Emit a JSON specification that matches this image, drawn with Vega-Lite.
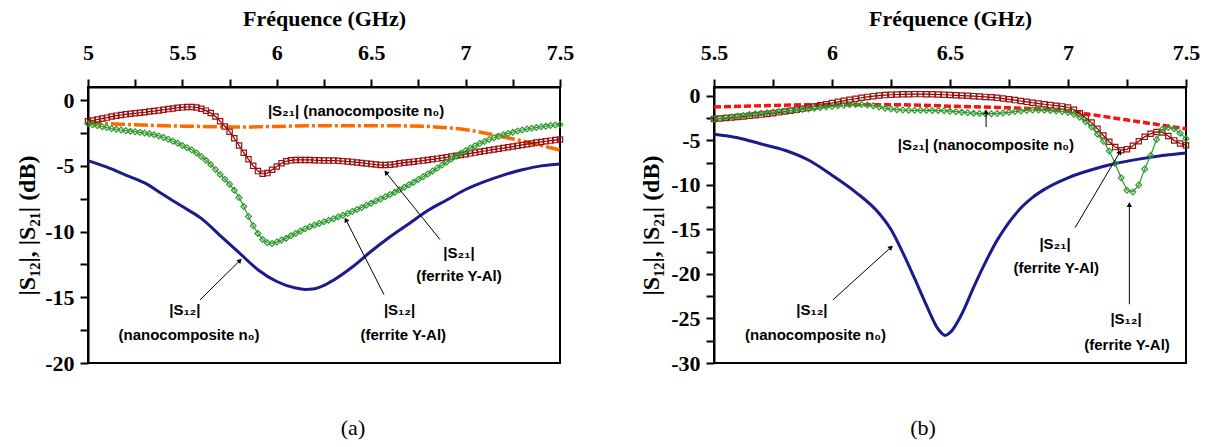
{
"$schema": "https://vega.github.io/schema/vega-lite/v6.json",
"background": "white",
"padding": {"left": 14, "top": 6, "right": 5, "bottom": 0},
"config": {
 "view": {"stroke": "black", "strokeWidth": 2},
 "axis": {"grid": false, "domainColor": "black", "domainWidth": 2, "tickColor": "black", "tickWidth": 2, "tickSize": 8, "labelFont": "Liberation Serif", "labelFontWeight": "bold", "labelFontSize": 22, "labelColor": "black", "titleFont": "Liberation Serif", "titleFontWeight": "bold", "titleFontSize": 22, "titleColor": "black", "labelOverlap": false, "labelFlush": false},
 "title": {"font": "Liberation Serif", "fontSize": 22, "fontWeight": "normal", "color": "black"}
},
"datasets": {
 "a12n": [{"f":5.0,"v":-4.6},{"f":5.1,"v":-5.1},{"f":5.2,"v":-5.7},{"f":5.3,"v":-6.3},{"f":5.4,"v":-7.2},{"f":5.5,"v":-8.1},{"f":5.6,"v":-9.0},{"f":5.7,"v":-10.3},{"f":5.8,"v":-11.6},{"f":5.9,"v":-12.9},{"f":6.0,"v":-13.8},{"f":6.1,"v":-14.3},{"f":6.15,"v":-14.4},{"f":6.2,"v":-14.35},{"f":6.25,"v":-14.1},{"f":6.3,"v":-13.7},{"f":6.4,"v":-12.7},{"f":6.5,"v":-11.5},{"f":6.6,"v":-10.4},{"f":6.7,"v":-9.4},{"f":6.8,"v":-8.4},{"f":6.9,"v":-7.6},{"f":7.0,"v":-6.8},{"f":7.1,"v":-6.2},{"f":7.2,"v":-5.7},{"f":7.3,"v":-5.3},{"f":7.4,"v":-5.0},{"f":7.5,"v":-4.85}],
 "a21n": [{"f":5.0,"v":-1.7},{"f":5.1,"v":-1.78},{"f":5.2,"v":-1.85},{"f":5.3,"v":-1.9},{"f":5.4,"v":-1.95},{"f":5.5,"v":-1.98},{"f":5.6,"v":-2.0},{"f":5.7,"v":-2.03},{"f":5.8,"v":-2.05},{"f":5.9,"v":-2.03},{"f":6.0,"v":-2.0},{"f":6.2,"v":-1.95},{"f":6.4,"v":-1.95},{"f":6.6,"v":-1.95},{"f":6.8,"v":-2.0},{"f":6.9,"v":-2.1},{"f":7.0,"v":-2.25},{"f":7.1,"v":-2.5},{"f":7.2,"v":-2.8},{"f":7.3,"v":-3.1},{"f":7.4,"v":-3.45},{"f":7.5,"v":-3.8}],
 "a21f": [{"f":5.0,"v":-1.6},{"f":5.025,"v":-1.55},{"f":5.05,"v":-1.47},{"f":5.075,"v":-1.4},{"f":5.1,"v":-1.33},{"f":5.125,"v":-1.25},{"f":5.15,"v":-1.18},{"f":5.175,"v":-1.13},{"f":5.2,"v":-1.08},{"f":5.225,"v":-1.04},{"f":5.25,"v":-1.0},{"f":5.275,"v":-0.96},{"f":5.3,"v":-0.92},{"f":5.325,"v":-0.87},{"f":5.35,"v":-0.83},{"f":5.375,"v":-0.78},{"f":5.4,"v":-0.73},{"f":5.425,"v":-0.68},{"f":5.45,"v":-0.63},{"f":5.475,"v":-0.58},{"f":5.5,"v":-0.55},{"f":5.525,"v":-0.52},{"f":5.55,"v":-0.52},{"f":5.575,"v":-0.56},{"f":5.6,"v":-0.65},{"f":5.625,"v":-0.8},{"f":5.65,"v":-0.98},{"f":5.675,"v":-1.25},{"f":5.7,"v":-1.6},{"f":5.725,"v":-2.0},{"f":5.75,"v":-2.4},{"f":5.775,"v":-2.9},{"f":5.8,"v":-3.45},{"f":5.825,"v":-4.0},{"f":5.85,"v":-4.5},{"f":5.875,"v":-5.0},{"f":5.9,"v":-5.4},{"f":5.925,"v":-5.6},{"f":5.95,"v":-5.55},{"f":5.975,"v":-5.3},{"f":6.0,"v":-5.05},{"f":6.025,"v":-4.8},{"f":6.05,"v":-4.65},{"f":6.075,"v":-4.58},{"f":6.1,"v":-4.55},{"f":6.125,"v":-4.55},{"f":6.15,"v":-4.55},{"f":6.175,"v":-4.55},{"f":6.2,"v":-4.57},{"f":6.225,"v":-4.58},{"f":6.25,"v":-4.6},{"f":6.275,"v":-4.6},{"f":6.3,"v":-4.6},{"f":6.325,"v":-4.62},{"f":6.35,"v":-4.64},{"f":6.375,"v":-4.67},{"f":6.4,"v":-4.7},{"f":6.425,"v":-4.74},{"f":6.45,"v":-4.78},{"f":6.475,"v":-4.82},{"f":6.5,"v":-4.86},{"f":6.525,"v":-4.9},{"f":6.55,"v":-4.93},{"f":6.575,"v":-4.94},{"f":6.6,"v":-4.92},{"f":6.625,"v":-4.87},{"f":6.65,"v":-4.81},{"f":6.675,"v":-4.76},{"f":6.7,"v":-4.72},{"f":6.725,"v":-4.68},{"f":6.75,"v":-4.64},{"f":6.775,"v":-4.6},{"f":6.8,"v":-4.55},{"f":6.825,"v":-4.5},{"f":6.85,"v":-4.45},{"f":6.875,"v":-4.4},{"f":6.9,"v":-4.35},{"f":6.925,"v":-4.29},{"f":6.95,"v":-4.23},{"f":6.975,"v":-4.17},{"f":7.0,"v":-4.11},{"f":7.025,"v":-4.05},{"f":7.05,"v":-3.99},{"f":7.075,"v":-3.93},{"f":7.1,"v":-3.87},{"f":7.125,"v":-3.81},{"f":7.15,"v":-3.75},{"f":7.175,"v":-3.7},{"f":7.2,"v":-3.65},{"f":7.225,"v":-3.59},{"f":7.25,"v":-3.53},{"f":7.275,"v":-3.47},{"f":7.3,"v":-3.41},{"f":7.325,"v":-3.35},{"f":7.35,"v":-3.29},{"f":7.375,"v":-3.23},{"f":7.4,"v":-3.18},{"f":7.425,"v":-3.13},{"f":7.45,"v":-3.08},{"f":7.475,"v":-3.04},{"f":7.5,"v":-3.0}],
 "a12f": [{"f":5.0,"v":-1.8},{"f":5.025,"v":-1.88},{"f":5.05,"v":-1.95},{"f":5.075,"v":-2.02},{"f":5.1,"v":-2.09},{"f":5.125,"v":-2.16},{"f":5.15,"v":-2.22},{"f":5.175,"v":-2.27},{"f":5.2,"v":-2.32},{"f":5.225,"v":-2.36},{"f":5.25,"v":-2.4},{"f":5.275,"v":-2.45},{"f":5.3,"v":-2.5},{"f":5.325,"v":-2.56},{"f":5.35,"v":-2.63},{"f":5.375,"v":-2.72},{"f":5.4,"v":-2.84},{"f":5.425,"v":-2.98},{"f":5.45,"v":-3.13},{"f":5.475,"v":-3.28},{"f":5.5,"v":-3.45},{"f":5.525,"v":-3.62},{"f":5.55,"v":-3.8},{"f":5.575,"v":-4.02},{"f":5.6,"v":-4.28},{"f":5.625,"v":-4.57},{"f":5.65,"v":-4.9},{"f":5.675,"v":-5.27},{"f":5.7,"v":-5.65},{"f":5.725,"v":-6.02},{"f":5.75,"v":-6.4},{"f":5.775,"v":-6.85},{"f":5.8,"v":-7.4},{"f":5.825,"v":-8.1},{"f":5.85,"v":-8.85},{"f":5.875,"v":-9.55},{"f":5.9,"v":-10.15},{"f":5.925,"v":-10.6},{"f":5.95,"v":-10.85},{"f":5.975,"v":-10.9},{"f":6.0,"v":-10.8},{"f":6.025,"v":-10.65},{"f":6.05,"v":-10.5},{"f":6.075,"v":-10.32},{"f":6.1,"v":-10.14},{"f":6.125,"v":-9.96},{"f":6.15,"v":-9.78},{"f":6.175,"v":-9.63},{"f":6.2,"v":-9.5},{"f":6.225,"v":-9.38},{"f":6.25,"v":-9.26},{"f":6.275,"v":-9.14},{"f":6.3,"v":-9.02},{"f":6.325,"v":-8.89},{"f":6.35,"v":-8.76},{"f":6.375,"v":-8.62},{"f":6.4,"v":-8.47},{"f":6.425,"v":-8.32},{"f":6.45,"v":-8.16},{"f":6.475,"v":-8.0},{"f":6.5,"v":-7.84},{"f":6.525,"v":-7.68},{"f":6.55,"v":-7.52},{"f":6.575,"v":-7.35},{"f":6.6,"v":-7.18},{"f":6.625,"v":-7.0},{"f":6.65,"v":-6.82},{"f":6.675,"v":-6.63},{"f":6.7,"v":-6.44},{"f":6.725,"v":-6.24},{"f":6.75,"v":-6.04},{"f":6.775,"v":-5.83},{"f":6.8,"v":-5.62},{"f":6.825,"v":-5.4},{"f":6.85,"v":-5.17},{"f":6.875,"v":-4.94},{"f":6.9,"v":-4.71},{"f":6.925,"v":-4.48},{"f":6.95,"v":-4.26},{"f":6.975,"v":-4.04},{"f":7.0,"v":-3.84},{"f":7.025,"v":-3.65},{"f":7.05,"v":-3.47},{"f":7.075,"v":-3.3},{"f":7.1,"v":-3.14},{"f":7.125,"v":-2.99},{"f":7.15,"v":-2.86},{"f":7.175,"v":-2.74},{"f":7.2,"v":-2.63},{"f":7.225,"v":-2.53},{"f":7.25,"v":-2.44},{"f":7.275,"v":-2.35},{"f":7.3,"v":-2.27},{"f":7.325,"v":-2.2},{"f":7.35,"v":-2.14},{"f":7.375,"v":-2.08},{"f":7.4,"v":-2.03},{"f":7.425,"v":-1.98},{"f":7.45,"v":-1.93},{"f":7.475,"v":-1.89},{"f":7.5,"v":-1.85}],
 "b12n": [{"f":5.5,"v":-4.3},{"f":5.6,"v":-4.7},{"f":5.7,"v":-5.4},{"f":5.8,"v":-6.1},{"f":5.9,"v":-7.2},{"f":6.0,"v":-8.9},{"f":6.1,"v":-10.8},{"f":6.2,"v":-13.2},{"f":6.25,"v":-15.0},{"f":6.3,"v":-17.6},{"f":6.35,"v":-20.5},{"f":6.4,"v":-23.5},{"f":6.45,"v":-26.2},{"f":6.48,"v":-26.9},{"f":6.5,"v":-26.6},{"f":6.55,"v":-24.5},{"f":6.6,"v":-21.5},{"f":6.65,"v":-18.7},{"f":6.7,"v":-16.2},{"f":6.75,"v":-14.2},{"f":6.8,"v":-12.6},{"f":6.85,"v":-11.4},{"f":6.9,"v":-10.5},{"f":7.0,"v":-9.2},{"f":7.1,"v":-8.3},{"f":7.2,"v":-7.6},{"f":7.3,"v":-7.1},{"f":7.4,"v":-6.7},{"f":7.5,"v":-6.4}],
 "b21n": [{"f":5.5,"v":-1.25},{"f":5.7,"v":-1.1},{"f":5.9,"v":-1.0},{"f":6.1,"v":-1.0},{"f":6.3,"v":-1.0},{"f":6.5,"v":-1.15},{"f":6.7,"v":-1.3},{"f":6.9,"v":-1.5},{"f":7.0,"v":-1.7},{"f":7.1,"v":-2.1},{"f":7.2,"v":-2.5},{"f":7.3,"v":-2.9},{"f":7.4,"v":-3.3},{"f":7.5,"v":-3.7}],
 "b21f": [{"f":5.5,"v":-2.6},{"f":5.525,"v":-2.55},{"f":5.55,"v":-2.49},{"f":5.575,"v":-2.43},{"f":5.6,"v":-2.37},{"f":5.625,"v":-2.3},{"f":5.65,"v":-2.24},{"f":5.675,"v":-2.17},{"f":5.7,"v":-2.1},{"f":5.725,"v":-2.02},{"f":5.75,"v":-1.94},{"f":5.775,"v":-1.85},{"f":5.8,"v":-1.76},{"f":5.825,"v":-1.66},{"f":5.85,"v":-1.56},{"f":5.875,"v":-1.44},{"f":5.9,"v":-1.32},{"f":5.925,"v":-1.19},{"f":5.95,"v":-1.06},{"f":5.975,"v":-0.93},{"f":6.0,"v":-0.8},{"f":6.025,"v":-0.67},{"f":6.05,"v":-0.55},{"f":6.075,"v":-0.43},{"f":6.1,"v":-0.32},{"f":6.125,"v":-0.21},{"f":6.15,"v":-0.11},{"f":6.175,"v":-0.03},{"f":6.2,"v":0.04},{"f":6.225,"v":0.09},{"f":6.25,"v":0.13},{"f":6.275,"v":0.16},{"f":6.3,"v":0.18},{"f":6.325,"v":0.19},{"f":6.35,"v":0.2},{"f":6.375,"v":0.2},{"f":6.4,"v":0.19},{"f":6.425,"v":0.18},{"f":6.45,"v":0.16},{"f":6.475,"v":0.13},{"f":6.5,"v":0.1},{"f":6.525,"v":0.07},{"f":6.55,"v":0.04},{"f":6.575,"v":0.01},{"f":6.6,"v":-0.03},{"f":6.625,"v":-0.07},{"f":6.65,"v":-0.11},{"f":6.675,"v":-0.16},{"f":6.7,"v":-0.22},{"f":6.725,"v":-0.3},{"f":6.75,"v":-0.38},{"f":6.775,"v":-0.47},{"f":6.8,"v":-0.57},{"f":6.825,"v":-0.67},{"f":6.85,"v":-0.77},{"f":6.875,"v":-0.86},{"f":6.9,"v":-0.94},{"f":6.925,"v":-1.02},{"f":6.95,"v":-1.1},{"f":6.975,"v":-1.18},{"f":7.0,"v":-1.3},{"f":7.025,"v":-1.55},{"f":7.05,"v":-1.95},{"f":7.075,"v":-2.45},{"f":7.1,"v":-3.0},{"f":7.125,"v":-3.7},{"f":7.15,"v":-4.45},{"f":7.175,"v":-5.15},{"f":7.2,"v":-5.75},{"f":7.225,"v":-6.1},{"f":7.25,"v":-6.0},{"f":7.275,"v":-5.6},{"f":7.3,"v":-5.1},{"f":7.325,"v":-4.6},{"f":7.35,"v":-4.25},{"f":7.375,"v":-4.05},{"f":7.4,"v":-4.1},{"f":7.425,"v":-4.5},{"f":7.45,"v":-5.0},{"f":7.475,"v":-5.35},{"f":7.5,"v":-5.55}],
 "b12f": [{"f":5.5,"v":-2.6},{"f":5.525,"v":-2.52},{"f":5.55,"v":-2.43},{"f":5.575,"v":-2.35},{"f":5.6,"v":-2.27},{"f":5.625,"v":-2.19},{"f":5.65,"v":-2.1},{"f":5.675,"v":-2.02},{"f":5.7,"v":-1.95},{"f":5.725,"v":-1.88},{"f":5.75,"v":-1.82},{"f":5.775,"v":-1.76},{"f":5.8,"v":-1.7},{"f":5.825,"v":-1.64},{"f":5.85,"v":-1.58},{"f":5.875,"v":-1.52},{"f":5.9,"v":-1.46},{"f":5.925,"v":-1.39},{"f":5.95,"v":-1.32},{"f":5.975,"v":-1.25},{"f":6.0,"v":-1.18},{"f":6.025,"v":-1.11},{"f":6.05,"v":-1.05},{"f":6.075,"v":-1.0},{"f":6.1,"v":-0.97},{"f":6.125,"v":-0.97},{"f":6.15,"v":-1.02},{"f":6.175,"v":-1.12},{"f":6.2,"v":-1.25},{"f":6.225,"v":-1.38},{"f":6.25,"v":-1.48},{"f":6.275,"v":-1.55},{"f":6.3,"v":-1.59},{"f":6.325,"v":-1.61},{"f":6.35,"v":-1.62},{"f":6.375,"v":-1.62},{"f":6.4,"v":-1.62},{"f":6.425,"v":-1.63},{"f":6.45,"v":-1.65},{"f":6.475,"v":-1.68},{"f":6.5,"v":-1.72},{"f":6.525,"v":-1.77},{"f":6.55,"v":-1.83},{"f":6.575,"v":-1.89},{"f":6.6,"v":-1.94},{"f":6.625,"v":-1.98},{"f":6.65,"v":-2.0},{"f":6.675,"v":-2.0},{"f":6.7,"v":-1.97},{"f":6.725,"v":-1.91},{"f":6.75,"v":-1.84},{"f":6.775,"v":-1.76},{"f":6.8,"v":-1.69},{"f":6.825,"v":-1.63},{"f":6.85,"v":-1.59},{"f":6.875,"v":-1.58},{"f":6.9,"v":-1.6},{"f":6.925,"v":-1.65},{"f":6.95,"v":-1.7},{"f":6.975,"v":-1.76},{"f":7.0,"v":-1.85},{"f":7.025,"v":-2.05},{"f":7.05,"v":-2.4},{"f":7.075,"v":-2.9},{"f":7.1,"v":-3.5},{"f":7.125,"v":-4.3},{"f":7.15,"v":-5.1},{"f":7.175,"v":-6.2},{"f":7.2,"v":-7.6},{"f":7.225,"v":-9.2},{"f":7.25,"v":-10.6},{"f":7.275,"v":-10.8},{"f":7.3,"v":-10.0},{"f":7.325,"v":-8.2},{"f":7.35,"v":-6.7},{"f":7.375,"v":-4.9},{"f":7.4,"v":-3.75},{"f":7.425,"v":-3.55},{"f":7.45,"v":-3.7},{"f":7.475,"v":-4.2},{"f":7.5,"v":-4.8}],
 "ann": [
  {"p":"a","f":6.42,"v":-0.8,"t":"|S₂₁| (nanocomposite n₀)"},
  {"p":"a","f":6.965,"v":-11.6,"t":"|S₂₁|"},
  {"p":"a","f":6.965,"v":-13.4,"t":"(ferrite Y-Al)"},
  {"p":"a","f":5.513,"v":-15.95,"t":"|S₁₂|"},
  {"p":"a","f":5.535,"v":-17.9,"t":"(nanocomposite n₀)"},
  {"p":"a","f":6.65,"v":-15.95,"t":"|S₁₂|"},
  {"p":"a","f":6.67,"v":-17.9,"t":"(ferrite Y-Al)"},
  {"p":"b","f":6.652,"v":-5.5,"t":"|S₂₁| (nanocomposite n₀)"},
  {"p":"b","f":6.945,"v":-16.6,"t":"|S₂₁|"},
  {"p":"b","f":6.95,"v":-19.3,"t":"(ferrite Y-Al)"},
  {"p":"b","f":5.915,"v":-24.0,"t":"|S₁₂|"},
  {"p":"b","f":5.93,"v":-26.8,"t":"(nanocomposite n₀)"},
  {"p":"b","f":7.246,"v":-25.1,"t":"|S₁₂|"},
  {"p":"b","f":7.25,"v":-28.0,"t":"(ferrite Y-Al)"}
 ],
 "arrows": [
  {"p":"a","f":5.805,"v":-12.2,"f2":5.593,"v2":-15.2},
  {"p":"a","f":6.366,"v":-9.1,"f2":6.568,"v2":-14.8},
  {"p":"a","f":6.578,"v":-5.5,"f2":6.864,"v2":-10.6},
  {"p":"b","f":6.25,"v":-17.0,"f2":6.004,"v2":-22.9},
  {"p":"b","f":6.653,"v":-1.8,"f2":6.653,"v2":-3.5},
  {"p":"b","f":7.22,"v":-6.3,"f2":7.03,"v2":-14.8},
  {"p":"b","f":7.26,"v":-12.2,"f2":7.26,"v2":-23.4}
 ]
},
"spacing": 154,
"bounds": "flush",
"hconcat": [
 {
  "width": 472, "height": 276,
  "title": {"text": "(a)", "orient": "bottom", "offset": 44, "dx": 29, "anchor": "middle"},
  "encoding": {
   "x": {"field": "f", "type": "quantitative", "scale": {"domain": [5, 7.5], "nice": false, "zero": false},
    "axis": {"orient": "top", "title": "Fréquence (GHz)", "values": [5,5.25,5.5,5.75,6,6.25,6.5,6.75,7,7.25,7.5], "labelExpr": "(datum.value*2) % 1 == 0 ? '' + datum.value : ''", "labelPadding": 15, "titlePadding": 11}},
   "y": {"field": "v", "type": "quantitative", "scale": {"domain": [-20, 1], "nice": false, "zero": false},
    "axis": {"title": "|S₁₂|, |S₂₁| (dB)", "titleFontSize": 24, "values": [-20,-17.5,-15,-12.5,-10,-7.5,-5,-2.5,0], "labelExpr": "datum.value % 5 == 0 ? (datum.value < 0 ? '-' + (-datum.value) : '' + datum.value) : ''", "labelPadding": 6, "titlePadding": 5}}
  },
  "layer": [
   {"data": {"name": "a12n"}, "mark": {"type": "line", "color": "#1b1b8c", "strokeWidth": 3, "interpolate": "monotone"}, "encoding": {}},
   {"data": {"name": "a21n"}, "mark": {"type": "line", "color": "#ff6a00", "strokeWidth": 3.5, "strokeDash": [14, 3, 3, 3], "interpolate": "monotone"}, "encoding": {}},
   {"data": {"name": "a21f"}, "mark": {"type": "line", "color": "#8b0000", "strokeWidth": 1.2}, "encoding": {}},
   {"data": {"name": "a21f"}, "mark": {"type": "point", "shape": "square", "filled": false, "color": "#9b1010", "size": 28, "strokeWidth": 1.2, "opacity": 1}, "encoding": {}},
   {"data": {"name": "a12f"}, "mark": {"type": "line", "color": "#2f9a2f", "strokeWidth": 1.2}, "encoding": {}},
   {"data": {"name": "a12f"}, "mark": {"type": "point", "shape": "diamond", "filled": false, "color": "#2f9a2f", "size": 34, "strokeWidth": 1.2, "opacity": 1}, "encoding": {}},
   {"data": {"name": "ann"}, "transform": [{"filter": "datum.p == 'a'"}], "mark": {"type": "text", "font": "Liberation Sans", "fontWeight": "bold", "fontSize": 15, "align": "center", "baseline": "middle", "color": "black"}, "encoding": {"text": {"field": "t"}}},
   {"data": {"name": "arrows"}, "transform": [{"filter": "datum.p == 'a'"}], "mark": {"type": "rule", "color": "black", "strokeWidth": 1}, "encoding": {"x2": {"field": "f2"}, "y2": {"field": "v2"}}},
   {"data": {"name": "arrows"}, "transform": [{"filter": "datum.p == 'a'"}, {"calculate": "atan2((datum.f - datum.f2) * 188.8, (datum.v - datum.v2) * 13.1) * 180 / PI", "as": "ang"}], "mark": {"type": "point", "shape": "triangle-up", "filled": true, "color": "black", "size": 30, "opacity": 1}, "encoding": {"angle": {"field": "ang", "type": "quantitative", "scale": null}}}
  ]
 },
 {
  "width": 472, "height": 276,
  "title": {"text": "(b)", "orient": "bottom", "offset": 44, "dx": -27, "anchor": "middle"},
  "encoding": {
   "x": {"field": "f", "type": "quantitative", "scale": {"domain": [5.5, 7.5], "nice": false, "zero": false},
    "axis": {"orient": "top", "title": "Fréquence (GHz)", "values": [5.5,5.75,6,6.25,6.5,6.75,7,7.25,7.5], "labelExpr": "(datum.value*2) % 1 == 0 ? '' + datum.value : ''", "labelPadding": 15, "titlePadding": 11}},
   "y": {"field": "v", "type": "quantitative", "scale": {"domain": [-30, 1], "nice": false, "zero": false},
    "axis": {"title": "|S₁₂|, |S₂₁| (dB)", "titleFontSize": 24, "values": [-30,-27.5,-25,-22.5,-20,-17.5,-15,-12.5,-10,-7.5,-5,-2.5,0], "labelExpr": "datum.value % 5 == 0 ? (datum.value < 0 ? '-' + (-datum.value) : '' + datum.value) : ''", "labelPadding": 6, "titlePadding": 7}}
  },
  "layer": [
   {"data": {"name": "b12n"}, "mark": {"type": "line", "color": "#1b1b8c", "strokeWidth": 3, "interpolate": "monotone"}, "encoding": {}},
   {"data": {"name": "b21n"}, "mark": {"type": "line", "color": "#ff1010", "strokeWidth": 3.5, "strokeDash": [7, 3], "interpolate": "monotone"}, "encoding": {}},
   {"data": {"name": "b21f"}, "mark": {"type": "line", "color": "#8b0000", "strokeWidth": 1.2}, "encoding": {}},
   {"data": {"name": "b21f"}, "mark": {"type": "point", "shape": "square", "filled": false, "color": "#9b1010", "size": 28, "strokeWidth": 1.2, "opacity": 1}, "encoding": {}},
   {"data": {"name": "b12f"}, "mark": {"type": "line", "color": "#2f9a2f", "strokeWidth": 1.2}, "encoding": {}},
   {"data": {"name": "b12f"}, "mark": {"type": "point", "shape": "diamond", "filled": false, "color": "#2f9a2f", "size": 34, "strokeWidth": 1.2, "opacity": 1}, "encoding": {}},
   {"data": {"name": "ann"}, "transform": [{"filter": "datum.p == 'b'"}], "mark": {"type": "text", "font": "Liberation Sans", "fontWeight": "bold", "fontSize": 15, "align": "center", "baseline": "middle", "color": "black"}, "encoding": {"text": {"field": "t"}}},
   {"data": {"name": "arrows"}, "transform": [{"filter": "datum.p == 'b'"}], "mark": {"type": "rule", "color": "black", "strokeWidth": 1}, "encoding": {"x2": {"field": "f2"}, "y2": {"field": "v2"}}},
   {"data": {"name": "arrows"}, "transform": [{"filter": "datum.p == 'b'"}, {"calculate": "atan2((datum.f - datum.f2) * 236, (datum.v - datum.v2) * 8.87) * 180 / PI", "as": "ang"}], "mark": {"type": "point", "shape": "triangle-up", "filled": true, "color": "black", "size": 30, "opacity": 1}, "encoding": {"angle": {"field": "ang", "type": "quantitative", "scale": null}}}
  ]
 }
]
}
